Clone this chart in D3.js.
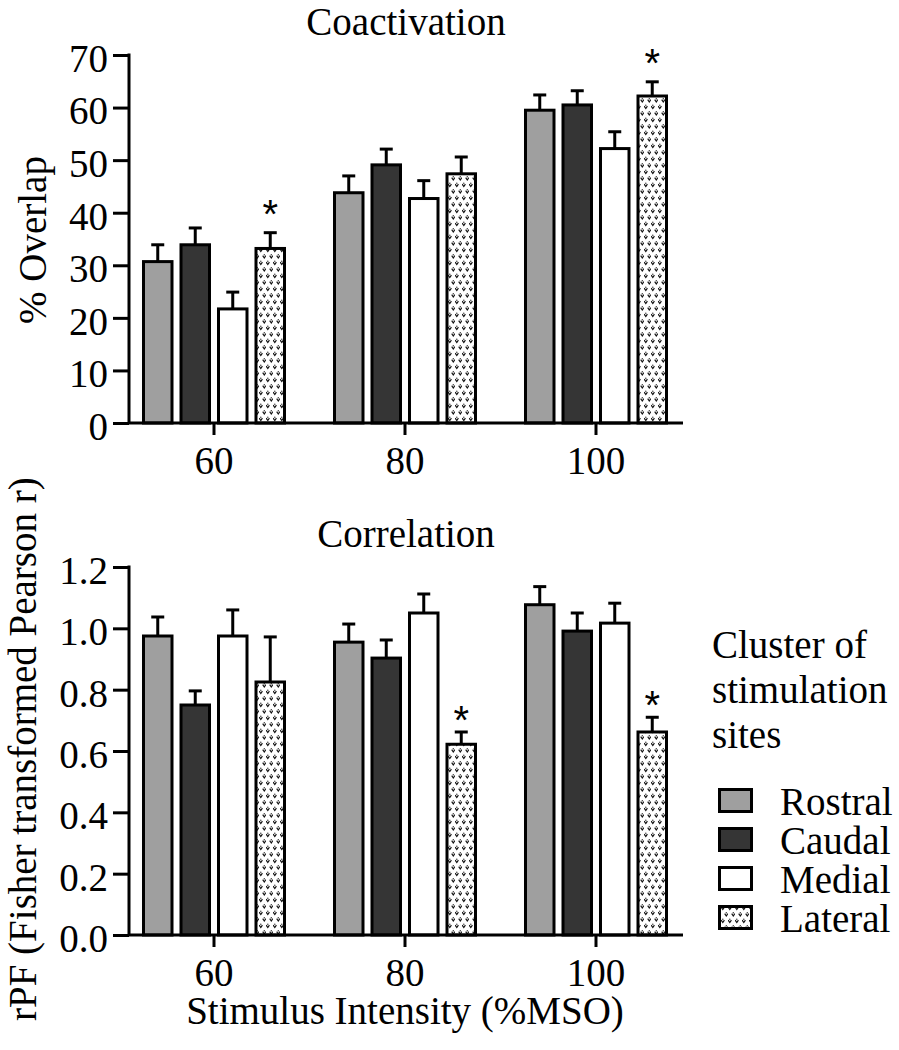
<!DOCTYPE html>
<html><head><meta charset="utf-8">
<script src="https://cdn.jsdelivr.net/npm/d3@7"></script>
<style>
body{margin:0;background:#fff}
svg{display:block}
text{font-family:"Liberation Serif","Times New Roman",serif;fill:#000}
text.star{font-family:"Liberation Sans",Arial,sans-serif}
</style>
</head><body>
<svg id="c" width="899" height="1050"></svg>
<script>
// ---------- data ----------
const categories = ["60", "80", "100"];
const series = ["Rostral", "Caudal", "Medial", "Lateral"];

const coactRostral = [30.7, 43.8, 59.5];
const coactCaudal  = [33.9, 49.1, 60.5];
const coactMedial  = [21.7, 42.7, 52.2];
const coactLateral = [33.2, 47.4, 62.2];
const coactRostralErr = [3.2, 3.2, 2.9];
const coactCaudalErr  = [3.2, 3.0, 2.7];
const coactMedialErr  = [3.2, 3.4, 3.2];
const coactLateralErr = [3.0, 3.2, 2.7];
const coactTicks = [0, 10, 20, 30, 40, 50, 60, 70];
const coactSig = [["60", "Lateral"], ["100", "Lateral"]];

const corrRostral = [0.975, 0.955, 1.077];
const corrCaudal  = [0.750, 0.903, 0.991];
const corrMedial  = [0.975, 1.050, 1.017];
const corrLateral = [0.825, 0.622, 0.662];
const corrRostralErr = [0.062, 0.059, 0.059];
const corrCaudalErr  = [0.046, 0.059, 0.059];
const corrMedialErr  = [0.085, 0.062, 0.065];
const corrLateralErr = [0.147, 0.040, 0.048];
const corrTicks = [0, 0.2, 0.4, 0.6, 0.8, 1.0, 1.2];
const corrSig = [["80", "Lateral"], ["100", "Lateral"]];

const legendTitle = ["Cluster of", "stimulation", "sites"];

// ---------- styles ----------
const fills = {Rostral: "#9f9f9f", Caudal: "#353535", Medial: "#ffffff", Lateral: "url(#dots)"};
const FS = 39;
const SERIF = '"Liberation Serif","Times New Roman",serif';
const svg = d3.select("#c");

// pattern for Lateral
const defs = svg.append("defs");
const pat = defs.append("pattern").attr("id", "dots").attr("patternUnits", "userSpaceOnUse")
  .attr("width", 7).attr("height", 13);
pat.append("rect").attr("width", 7).attr("height", 13).attr("fill", "#fff");
[[1.8, 3.2], [5.3, 9.7]].forEach(([px, py]) => {
  pat.append("path").attr("d", `M${px-1.6},${py-1} L${px},${py+1.3} L${px+1.6},${py-1}`)
    .attr("fill", "none").attr("stroke", "#111").attr("stroke-width", 1.2);
  pat.append("circle").attr("cx", px).attr("cy", py - 1.9).attr("r", 0.7).attr("fill", "#333");
});

const x = d3.scaleBand().domain(categories).range([118.5, 691.5]);
const inner = d3.scaleBand().domain(series).range([0, 150]).paddingInner(0.24).paddingOuter(0.12);
const cx = c => x(c) + x.bandwidth() / 2;

function panel(o) {
  const g = svg.append("g");
  const y = d3.scaleLinear().domain([0, o.ticks[o.ticks.length - 1]]).range([o.bottom, o.top]);
  const rows = [];
  series.forEach((s, si) => categories.forEach((c, ci) => {
    rows.push({s, c, v: o.means[si][ci], e: o.errs[si][ci]});
  }));
  const bx = d => cx(d.c) - 75 + inner(d.s);
  const mx = d => bx(d) + inner.bandwidth() / 2;

  // error bars
  const eb = g.selectAll("g.eb").data(rows).join("g");
  eb.append("line").attr("x1", mx).attr("x2", mx)
    .attr("y1", d => y(d.v)).attr("y2", d => y(d.v + d.e))
    .attr("stroke", "#000").attr("stroke-width", 3);
  eb.append("line").attr("x1", d => mx(d) - 6.5).attr("x2", d => mx(d) + 6.5)
    .attr("y1", d => y(d.v + d.e)).attr("y2", d => y(d.v + d.e))
    .attr("stroke", "#000").attr("stroke-width", 3);

  // bars
  g.selectAll("rect.bar").data(rows).join("rect").attr("class", "bar")
    .attr("x", bx).attr("width", inner.bandwidth())
    .attr("y", d => y(d.v)).attr("height", d => y(0) - y(d.v))
    .attr("fill", d => fills[d.s]).attr("stroke", "#000").attr("stroke-width", 3);

  // significance stars
  g.selectAll("text.star").data(o.sig).join("text").attr("class", "star")
    .attr("x", d => mx(rows.find(r => r.c === d[0] && r.s === d[1])))
    .attr("y", d => { const r = rows.find(r => r.c === d[0] && r.s === d[1]); return y(r.v + r.e) - o.starOff; })
    .attr("text-anchor", "middle").attr("font-size", 40).text("*");

  // y axis
  const ya = g.append("g").attr("transform", `translate(129,0)`)
    .call(d3.axisLeft(y).tickValues(o.ticks).tickFormat(o.fmt).tickSize(16).tickSizeOuter(0).tickPadding(5));
  ya.select(".domain").attr("stroke-width", 3).attr("d", `M0,${o.top - 1.5}V${o.bottom}`);
  ya.selectAll(".tick line").attr("stroke-width", 3);
  ya.selectAll(".tick text").attr("font-size", FS).attr("font-family", SERIF).attr("dy", "0.42em");

  // x axis
  const xa = g.append("g").attr("transform", `translate(0,${o.bottom})`)
    .call(d3.axisBottom(x).tickSize(12).tickSizeOuter(0).tickPadding(11));
  xa.select(".domain").attr("stroke-width", 3).attr("d", "M129,0H683");
  xa.selectAll(".tick line").attr("stroke-width", 3);
  xa.selectAll(".tick text").attr("font-size", FS).attr("font-family", SERIF);

  // title
  g.append("text").attr("x", 406).attr("y", o.titleY).attr("text-anchor", "middle")
    .attr("font-size", FS).text(o.title);
  return y;
}

panel({
  top: 55, bottom: 423, ticks: coactTicks, fmt: d3.format("d"),
  means: [coactRostral, coactCaudal, coactMedial, coactLateral],
  errs: [coactRostralErr, coactCaudalErr, coactMedialErr, coactLateralErr],
  sig: coactSig, starOff: 4.5, title: "Coactivation", titleY: 35
});
panel({
  top: 567, bottom: 935, ticks: corrTicks, fmt: d3.format(".1f"),
  means: [corrRostral, corrCaudal, corrMedial, corrLateral],
  errs: [corrRostralErr, corrCaudalErr, corrMedialErr, corrLateralErr],
  sig: corrSig, starOff: -2, title: "Correlation", titleY: 547
});

// axis labels
svg.append("text").attr("transform", "translate(46,240) rotate(-90)").attr("text-anchor", "middle")
  .attr("font-size", FS).text("% Overlap");
svg.append("text").attr("transform", "translate(36,1021) rotate(-90)").attr("text-anchor", "start")
  .attr("font-size", FS).text("rPF (Fisher transformed Pearson r)");
svg.append("text").attr("x", 405).attr("y", 1024).attr("text-anchor", "middle")
  .attr("font-size", FS).text("Stimulus Intensity (%MSO)");

// legend
const lg = svg.append("g");
lg.selectAll("text.lt").data(legendTitle).join("text").attr("class", "lt")
  .attr("x", 712).attr("y", (d, i) => 658 + i * 45).attr("font-size", FS).text(d => d);
const ly = d3.scaleBand().domain(series).range([788, 944]);
const li = lg.selectAll("g.li").data(series).join("g")
  .attr("transform", d => `translate(0,${ly(d)})`);
li.append("rect").attr("x", 719.5).attr("y", 1.5).attr("width", 32).attr("height", 22)
  .attr("fill", d => fills[d]).attr("stroke", "#000").attr("stroke-width", 3);
li.append("text").attr("x", 780).attr("y", 27).attr("font-size", FS).text(d => d);
</script>
</body></html>
